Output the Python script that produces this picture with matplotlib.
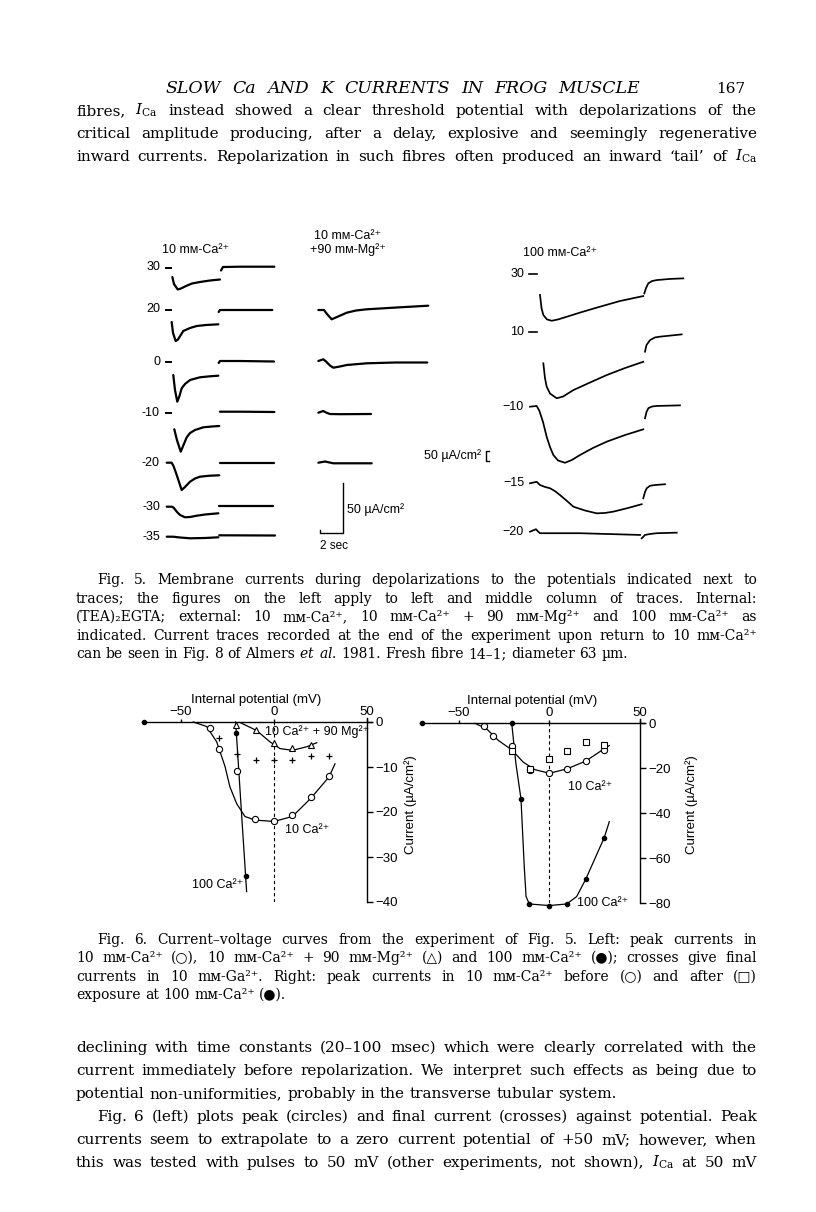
import matplotlib
matplotlib.use("Agg")
import matplotlib.pyplot as plt

W, H = 816, 1212
SERIF = ["DejaVu Serif", "DejaVu Sans"]
SANS = ["Liberation Sans", "DejaVu Sans"]
plt.rcParams["mathtext.fontset"] = "dejavuserif"
plt.rcParams["font.family"] = SANS

# ---------------- Fig. 5 traces (time in sec, current in uA/cm2) ----------------
left_mv = [30, 20, 0, -10, -20, -30, -35]
left_on_t = [
    [0.03, 0.17, 0.50, 0.78, 1.22, 1.74, 2.43, 3.30, 4.17],
    [-0.03, 0.09, 0.32, 0.52, 0.98, 1.57, 2.15, 2.96, 4.03],
    [0.11, 0.26, 0.46, 0.65, 0.84, 1.13, 1.57, 2.43, 3.30, 4.03],
    [0.20, 0.43, 0.76, 1.00, 1.28, 1.57, 2.00, 2.72, 3.48, 4.11],
    [-0.46, -0.03, 0.13, 0.35, 0.61, 0.84, 1.13, 1.57, 2.00, 2.43, 3.30, 4.11],
    [-0.46, 0, 0.17, 0.41, 0.70, 1.13, 1.57, 2.15, 2.87, 4.03],
    [-0.46, 0.11, 0.70, 1.57, 2.87, 4.03],
]
left_on_i = [
    [-9.5, -16.5, -22, -21, -18.5, -16, -14.5, -13, -12],
    [-12.5, -23.5, -31.5, -30, -21.5, -18.5, -16.5, -15.5, -14.8],
    [-13, -28, -39.7, -34, -26.3, -22, -18, -15.3, -14.3, -13.7],
    [-16.8, -27.5, -39.2, -32.5, -24.8, -20.5, -17.5, -14.8, -14, -13.5],
    [0, 0, -3.3, -10.3, -19.3, -27.3, -24.3, -19, -15.8, -14, -13, -12.6],
    [0, 0, -1.3, -5, -8.3, -10.6, -10.3, -9, -7.8, -6.6],
    [0, 0, -0.8, -1.6, -1.3, -0.6],
]
left_off_t = [
    [4.26, 4.43, 5.91, 8.90],
    [4.06, 4.17, 5.91, 8.72],
    [4.06, 4.17, 5.91, 8.87],
    [4.17, 5.91, 8.90],
    [4.17, 8.87],
    [4.11, 8.81],
    [4.11, 8.96],
]
left_off_i = [
    [-3, 0.5, 0.8, 0.8],
    [-2.5, -0.5, -0.5, -0.5],
    [-1, 1, 1, 0.5],
    [0.8, 0.8, 0.5],
    [-0.3, -0.3],
    [0.7, 0.7],
    [1.4, 1.2],
]

mid_mv = [20, 0, -10, -20]
mid_t = [
    [-0.58, -0.09, 0.17, 0.58, 1.04, 1.89, 2.70, 3.63, 5.22, 6.52, 8.98],
    [-0.58, -0.15, 0.09, 0.43, 0.72, 1.30, 1.89, 3.63, 6.09, 8.89],
    [-0.58, -0.15, 0.09, 0.43, 1.30, 4.0],
    [-0.58, 0, 0.72, 4.06],
]
mid_i = [
    [0, 0, -4, -9.3, -7, -2.7, -0.5, 0.7, 1.8, 2.7, 4.3],
    [0, 1.7, -0.5, -4.5, -6.7, -5.5, -4, -2.3, -1.5, -1.5],
    [0, 1.7, 0.2, -1.3, -1.5, -1.3],
    [0, 1.2, -0.6, -0.6],
]

right_mv = [30, 10, -10, -15, -20]
right_on_t = [
    [0, 0.13, 0.29, 0.61, 1.02, 1.57, 2.32, 3.48, 4.93, 6.96, 8.98],
    [0.29, 0.43, 0.58, 0.87, 1.45, 2.0, 2.90, 4.35, 5.80, 7.39, 8.98],
    [-0.87, -0.29, -0.06, 0.26, 0.58, 0.87, 1.16, 1.57, 2.17, 2.78, 3.48, 4.61, 5.80, 7.39, 8.98],
    [-0.87, -0.29, 0, 0.43, 0.87, 1.30, 1.74, 2.35, 2.90, 3.91, 4.93, 5.65, 6.38, 7.65, 8.84],
    [-0.87, -0.35, -0.17, 0, 3.48, 8.70],
]
right_on_i = [
    [-110, -179, -216, -239, -246, -239, -225, -203, -177, -142, -116],
    [-163, -240, -286, -322, -347, -338, -304, -264, -225, -188, -155],
    [0, 4, -21, -80, -158, -212, -254, -283, -295, -280, -254, -217, -184, -149, -119],
    [0, 8, -9, -19, -26, -41, -62, -93, -123, -143, -158, -156, -149, -130, -110],
    [0, 13, 1, -8, -8, -17],
]
right_tail_t = [
    [9.07, 9.22, 9.42, 9.74, 10.15, 11.30, 12.46],
    [9.13, 9.26, 9.57, 10.0, 10.43, 12.32],
    [9.13, 9.26, 9.42, 9.74, 10.15, 12.17],
    [8.98, 9.13, 9.28, 9.57, 10.0, 10.87],
    [8.84, 8.96, 9.13, 9.57, 10.15, 11.89],
]
right_tail_i = [
    [-102, -74, -49, -37, -32, -26, -23],
    [-102, -67, -41, -27, -23, -11],
    [-61, -28, -8, 1, 4, 7],
    [-79, -46, -26, -13, -9, -5],
    [-35, -28, -17, -12, -8, -5],
]

# ---------------- Fig. 6 I-V data (mV, uA/cm2) ----------------
ivl_circ_v = [-34.4, -29.4, -19.7, -10.2, 0, 9.9, 19.7, 29.6]
ivl_circ_i = [-1.4, -6.0, -10.8, -21.6, -22.1, -20.7, -16.7, -11.9]
ivl_circ_fit_v = [-43.4, -36.2, -30.8, -26.3, -23.7, -20.1, -15.6, -10.2, 0, 9.9, 19.7, 29.6, 32.8]
ivl_circ_fit_i = [0, -1.0, -4.4, -9.9, -14.4, -18.1, -21.0, -21.8, -22.1, -21.0, -17.0, -12.2, -9.3]
ivl_tri_v = [-20.6, -9.9, 0, 9.9, 19.7]
ivl_tri_i = [-0.6, -1.8, -4.7, -5.8, -5.0]
ivl_tri_fit_v = [-18.3, -9.3, -2.2, 3.2, 9.9, 17.6, 23.0]
ivl_tri_fit_i = [-0.1, -1.9, -4.4, -5.9, -6.3, -5.5, -4.6]
ivl_cross_v = [-29.4, -20.1, -9.9, 0, 9.9, 19.7, 29.6]
ivl_cross_i = [-3.6, -7.1, -8.4, -8.4, -8.4, -7.6, -7.6]
ivl_dot_v = [-70, -20.4, -15.1]
ivl_dot_i = [0, -2.5, -34.2]
ivl_dot_fit_v = [-20.6, -17.8, -14.7]
ivl_dot_fit_i = [0, -18, -37.7]

ivr_circ_v = [-36.0, -30.9, -20.7, -10.6, 0, 9.6, 20.1, 30.3]
ivr_circ_i = [-1.2, -5.7, -10.2, -20.8, -22.3, -20.5, -16.8, -11.9]
ivr_circ_fit_v = [-41, -34.5, -28.1, -20.7, -14.3, -7.9, 0, 9.6, 20.1, 30.3, 33.1]
ivr_circ_fit_i = [0, -2.5, -7.6, -11.8, -17.3, -20.6, -22.2, -20.3, -16.8, -11.3, -9.9]
ivr_sq_v = [-20.7, -10.6, 0, 9.6, 20.1, 30.3]
ivr_sq_i = [-12.5, -20.5, -15.7, -12.5, -8.4, -9.5]
ivr_dot_v = [-70, -20.7, -15.6, -11.0, 0, 9.6, 20.1, 30.3]
ivr_dot_i = [0, 0, -33.6, -80.3, -81, -80.3, -69.3, -50.8]
ivr_dot_fit_v = [-20.7, -18.4, -15.6, -13.8, -12.8, -11.0, 0, 9.6, 15.1, 20.1, 30.3, 33.1]
ivr_dot_fit_i = [0, -17.9, -33.6, -63.7, -77, -80.3, -81, -80.3, -77, -69.3, -50.8, -43.7]

fig = plt.figure(figsize=(W / 100, H / 100), dpi=100)
fig.patch.set_facecolor("white")


def ax_px(x0, y0, x1, y1):
    return fig.add_axes([x0 / W, 1 - y1 / H, (x1 - x0) / W, (y1 - y0) / H])


# pixel layout of the trace columns
PX_PER_S = 11.5
left_rows = [267.5, 309.5, 362, 412.5, 462.7, 506.7, 536.7]
mid_rows = [310, 361, 412.7, 462.7]
right_rows = [274, 332.3, 406.7, 483.3, 531.7]
K_RIGHT = 5.26  # uA/cm2 per pixel in the 100 mM-Ca column
LAB = 9


def trace_axes(x0, x1, onset, k=1.0):
    ax = ax_px(x0, 225, x1, 565)
    ax.set_xlim((x0 - onset) / PX_PER_S, (x1 - onset) / PX_PER_S)
    ax.set_ylim(-565 * k, -225 * k)
    ax.axis("off")
    return ax


ax_l = trace_axes(140, 300, 172)
ax_m = trace_axes(300, 440, 325)
ax_r = trace_axes(480, 700, 540, K_RIGHT)

for row, mv, t_on, i_on, t_off, i_off in zip(left_rows, left_mv, left_on_t, left_on_i,
                                              left_off_t, left_off_i):
    ax_l.plot(t_on, [-row + v for v in i_on], color="black", lw=1.6, solid_capstyle="round")
    ax_l.plot(t_off, [-row + v for v in i_off], color="black", lw=1.6, solid_capstyle="round")
    ax_l.text((160 - 172) / PX_PER_S, -row, str(mv), ha="right", va="center",
              fontsize=LAB, family=SANS)
    if t_on[0] > -0.1:
        ax_l.plot([(166 - 172) / PX_PER_S, (171 - 172) / PX_PER_S], [-row, -row],
                  color="black", lw=1.4)

for row, t, i in zip(mid_rows, mid_t, mid_i):
    ax_m.plot(t, [-row + v for v in i], color="black", lw=1.6, solid_capstyle="round")

# calibration for left and middle columns: 50 uA/cm2, 2 sec
bx = (343.3 - 325) / PX_PER_S
ax_m.plot([-0.43, -0.43, bx, bx], [-530, -533, -533, -533 + 50], color="black", lw=1.0)
ax_m.text(bx + 0.3, -510, "50 µA/cm²", ha="left", va="center", fontsize=LAB, family=SANS)
ax_m.text(-0.45, -546, "2 sec", ha="left", va="center", fontsize=LAB - 0.5, family=SANS)

for row, mv, t_on, i_on, t_tl, i_tl in zip(right_rows, right_mv, right_on_t, right_on_i,
                                            right_tail_t, right_tail_i):
    base = -row * K_RIGHT
    ax_r.plot(t_on, [base + v for v in i_on], color="black", lw=1.25)
    ax_r.plot(t_tl, [base + v for v in i_tl], color="black", lw=1.25)
    ax_r.text((524 - 540) / PX_PER_S, base, str(mv).replace("-", "\u2212"), ha="right",
              va="center", fontsize=LAB, family=SANS)
    if t_on[0] > -0.1:
        ax_r.plot([(529 - 540) / PX_PER_S, (537 - 540) / PX_PER_S], [base, base],
                  color="black", lw=1.2)

# calibration bracket for 100 mM-Ca column
bt = (486 - 540) / PX_PER_S
btop = -451 * K_RIGHT
ax_r.plot([bt + 0.25, bt, bt, bt + 0.25], [btop, btop, btop - 50, btop - 50],
          color="black", lw=1.0, clip_on=False)
ax_r.text((481 - 540) / PX_PER_S, btop - 25, "50 µA/cm²", ha="right", va="center",
          fontsize=LAB, family=SANS)

# column headings
fig.text(196 / W, 1 - 250 / H, "10 m\u1d0d-Ca²⁺", ha="center", va="center", fontsize=LAB, family=SANS)
fig.text(348 / W, 1 - 236 / H, "10 m\u1d0d-Ca²⁺", ha="center", va="center", fontsize=LAB, family=SANS)
fig.text(348 / W, 1 - 250 / H, "+90 m\u1d0d-Mg²⁺", ha="center", va="center", fontsize=LAB, family=SANS)
fig.text(560 / W, 1 - 253 / H, "100 m\u1d0d-Ca²⁺", ha="center", va="center", fontsize=LAB, family=SANS)


# ---------------- Fig. 6 ----------------
def iv_axes(box, ylim, yticks):
    ax = ax_px(*box)
    ax.set_xlim(-71, 52)
    ax.set_ylim(*ylim)
    ax.patch.set_alpha(0)
    for s in ("left", "bottom"):
        ax.spines[s].set_visible(False)
    ax.spines["top"].set_position(("data", 0))
    ax.spines["right"].set_position(("data", 50))
    for s in ("top", "right"):
        ax.spines[s].set_linewidth(1.0)
    ax.xaxis.set_ticks_position("top")
    ax.yaxis.set_ticks_position("right")
    ax.set_xticks([-50, 0, 50])
    ax.set_xticklabels(["\u221250", "0", "50"])
    ax.set_yticks(yticks)
    ax.set_yticklabels([str(v).replace("-", "\u2212") for v in yticks])
    ax.tick_params(axis="x", direction="out", length=2, width=1.0, pad=1, labelsize=9.5)
    ax.tick_params(axis="y", direction="out", length=4, width=1.0, pad=2, labelsize=9.5)
    ax.set_xlabel("Internal potential (mV)", fontsize=9.5, labelpad=2)
    ax.xaxis.set_label_position("top")
    ax.vlines(0, ylim[0], 0, colors="black", linestyles=(0, (3, 2.5)), lw=0.8)
    return ax


open_kw = dict(ls="none", mfc="white", mec="black", mew=0.8, clip_on=False)
line_kw = dict(color="black", lw=0.9, clip_on=False)
axl = iv_axes((141.9, 717.5, 370.7, 902), (-40, 1), [0, -10, -20, -30, -40])
axl.plot(ivl_circ_fit_v, ivl_circ_fit_i, **line_kw)
axl.plot(ivl_tri_fit_v, ivl_tri_fit_i, **line_kw)
axl.plot(ivl_dot_fit_v, ivl_dot_fit_i, **line_kw)
axl.plot(ivl_circ_v, ivl_circ_i, marker="o", ms=4.5, **open_kw)
axl.plot(ivl_tri_v, ivl_tri_i, marker="^", ms=4.5, **open_kw)
axl.plot(ivl_cross_v, ivl_cross_i, ls="none", marker="+", ms=4, mew=0.9, color="black")
axl.plot(ivl_dot_v, ivl_dot_i, ls="none", marker="o", ms=3, color="black", clip_on=False)
axl.text(-5, -2.2, "10 Ca²⁺ + 90 Mg²⁺", ha="left", va="center", fontsize=9)
axl.text(5.9, -24, "10 Ca²⁺", ha="left", va="center", fontsize=9)
axl.text(-44.2, -36.2, "100 Ca²⁺", ha="left", va="center", fontsize=9)

axr = iv_axes((420.5, 718.8, 643.6, 903.3), (-80, 2), [0, -20, -40, -60, -80])
axr.plot(ivr_circ_fit_v, ivr_circ_fit_i, **line_kw)
axr.plot(ivr_dot_fit_v, ivr_dot_fit_i, **line_kw)
axr.plot(ivr_circ_v, ivr_circ_i, marker="o", ms=4.5, **open_kw)
axr.plot(ivr_sq_v, ivr_sq_i, marker="s", ms=4.2, **open_kw)
axr.plot(ivr_dot_v, ivr_dot_i, ls="none", marker="o", ms=3, color="black", clip_on=False)
axr.text(10.3, -28.2, "10 Ca²⁺", ha="left", va="center", fontsize=9)
axr.text(15.1, -80, "100 Ca²⁺", ha="left", va="center", fontsize=9)

for x in (411, 692):
    fig.text(x / W, 1 - 805 / H, "Current (µA/cm²)", rotation=90, ha="center",
             va="center", fontsize=9.5)

# ---------------- page text ----------------
renderer = fig.canvas.get_renderer()
ICA = "$I_{\\mathrm{Ca}}$"
mM = "m\u1d0d"
X0, X1, XI = 76, 757, 97
SPACE = 0.318  # DejaVu Serif word space, in em

top_lines = [
    (115, "fibres, " + ICA + " instead showed a clear threshold potential with depolarizations of the", X0, True),
    (138, "critical amplitude producing, after a delay, explosive and seemingly regenerative", X0, True),
    (161, "inward currents. Repolarization in such fibres often produced an inward \u2018tail\u2019 of " + ICA, X0, True),
]
cap5_lines = [
    (584, "Fig. 5. Membrane currents during depolarizations to the potentials indicated next to", XI, True),
    (603, "traces; the figures on the left apply to left and middle column of traces. Internal:", X0, True),
    (621, f"(TEA)\u2082EGTA; external: 10 {mM}-Ca²⁺, 10 {mM}-Ca²⁺ + 90 {mM}-Mg²⁺ and 100 {mM}-Ca²⁺ as", X0, True),
    (640, f"indicated. Current traces recorded at the end of the experiment upon return to 10 {mM}-Ca²⁺", X0, True),
    (658, "can be seen in Fig. 8 of Almers $\\mathit{et}$ $\\mathit{al.}$ 1981. Fresh fibre 14\u20131; diameter 63 µm.", X0, False),
]
cap6_lines = [
    (944, "Fig. 6. Current\u2013voltage curves from the experiment of Fig. 5. Left: peak currents in", XI, True),
    (962, f"10 {mM}-Ca²⁺ (\u25cb), 10 {mM}-Ca²⁺ + 90 {mM}-Mg²⁺ (\u25b3) and 100 {mM}-Ca²⁺ (\u25cf); crosses give final", X0, True),
    (981, f"currents in 10 {mM}-Ga²⁺. Right: peak currents in 10 {mM}-Ca²⁺ before (\u25cb) and after (\u25a1)", X0, True),
    (999, f"exposure at 100 {mM}-Ca²⁺ (\u25cf).", X0, False),
]
bottom_lines = [
    (1052, "declining with time constants (20\u2013100 msec) which were clearly correlated with the", X0, True),
    (1075, "current immediately before repolarization. We interpret such effects as being due to", X0, True),
    (1098, "potential non-uniformities, probably in the transverse tubular system.", X0, False),
    (1121, "Fig. 6 (left) plots peak (circles) and final current (crosses) against potential. Peak", XI, True),
    (1144, "currents seem to extrapolate to a zero current potential of +50 mV; however, when", X0, True),
    (1167, "this was tested with pulses to 50 mV (other experiments, not shown), " + ICA + " at 50 mV", X0, True),
]


def word_widths(s, size, **kw):
    out = []
    for w in s.split(" "):
        t = fig.text(0, 0, w, fontsize=size, family=SERIF, **kw)
        out.append(t.get_window_extent(renderer).width)
        t.remove()
    return out


def fit_size(lines):
    # largest size at which every justified line still fits with plain word spaces
    ratios = []
    for _, s, x0, j in lines:
        if not j:
            continue
        ws = word_widths(s, 10)
        natural = sum(ws) + (len(ws) - 1) * SPACE * 10 * 100 / 72
        ratios.append((X1 - x0) / natural)
    return 10 * min(ratios)


def text_line(y, s, size, x0, justify, x1=X1, **kw):
    words = s.split(" ")
    items = [fig.text(0, 1 - y / H, w, fontsize=size, family=SERIF, va="baseline", **kw)
             for w in words]
    widths = [t.get_window_extent(renderer).width for t in items]
    gap = SPACE * size * 100 / 72
    if justify and len(words) > 1:
        gap = (x1 - x0 - sum(widths)) / (len(words) - 1)
    x = x0
    for t, w in zip(items, widths):
        t.set_x(x / W)
        x += w + gap


body = fit_size(top_lines + bottom_lines) * 0.965
cap = fit_size(cap5_lines + cap6_lines) * 0.95
for y, s, x0, j in top_lines + bottom_lines:
    text_line(y, s, body, x0, j)
for y, s, x0, j in cap5_lines + cap6_lines:
    text_line(y, s, cap, x0, j)

text_line(93, "SLOW Ca AND K CURRENTS IN FROG MUSCLE", body * 1.14, 166, True, x1=640,
          style="italic")
fig.text(745 / W, 1 - 93 / H, "167", ha="right", va="baseline", fontsize=body, family=SERIF)

fig.savefig("out.png", dpi=100, facecolor="white")
